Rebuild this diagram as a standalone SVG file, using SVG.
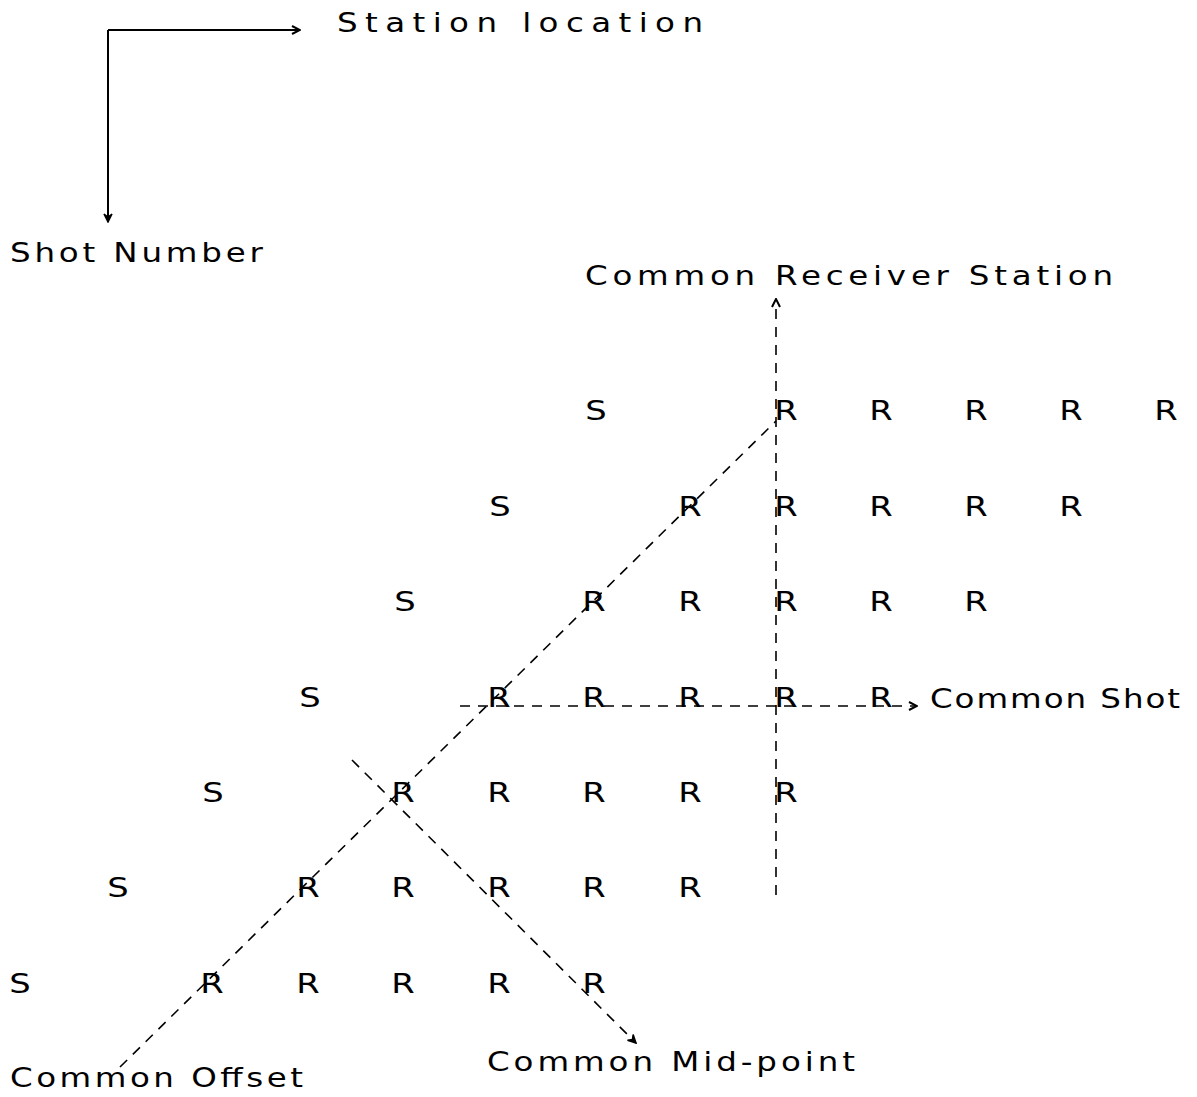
<svg xmlns="http://www.w3.org/2000/svg" width="1197" height="1097" viewBox="0 0 1197 1097">
<style>
text{font-family:"DejaVu Sans","Liberation Sans",sans-serif;font-size:26px;fill:#000}
.g text{text-anchor:middle;font-size:27px}
.ax{stroke:#000;stroke-width:2;fill:none}
.d{stroke:#000;stroke-width:1.6;fill:none;stroke-dasharray:10 8}
</style>
<defs>
<marker id="ah" viewBox="0 0 10 10" refX="9" refY="5" markerWidth="10" markerHeight="10" markerUnits="userSpaceOnUse" orient="auto">
<path d="M1,1 L9,5 L1,9" fill="none" stroke="#000" stroke-width="2"/>
</marker>
<marker id="ahf" viewBox="0 0 10 10" refX="9" refY="5" markerWidth="10" markerHeight="10" markerUnits="userSpaceOnUse" orient="auto">
<path d="M1,1 L9,5 L1,9 L4,5 Z" fill="#000" stroke="#000" stroke-width="1.5"/>
</marker>
</defs>
<rect width="1197" height="1097" fill="#fff"/>
<g id="axes">
<path class="ax" d="M108,30 H300" marker-end="url(#ah)"/>
<path class="ax" d="M108,30 V222" marker-end="url(#ahf)"/>
</g>
<g id="label-station"><text transform="translate(337,32) scale(1.25,1)" textLength="292.8" lengthAdjust="spacing">Station location</text></g>
<g id="label-shotnum"><text transform="translate(10,262) scale(1.25,1)" textLength="202.4" lengthAdjust="spacing">Shot Number</text></g>
<g id="label-receiver"><text transform="translate(585,285) scale(1.25,1)" textLength="422.4" lengthAdjust="spacing">Common Receiver Station</text></g>
<g id="label-shot"><text transform="translate(930,708) scale(1.25,1)" textLength="200" lengthAdjust="spacing">Common Shot</text></g>
<g id="label-offset"><text transform="translate(10,1087) scale(1.25,1)" textLength="234.4" lengthAdjust="spacing">Common Offset</text></g>
<g id="label-midpoint"><text transform="translate(487,1071) scale(1.25,1)" textLength="294.4" lengthAdjust="spacing">Common Mid-point</text></g>
<g id="grid" class="g">
<g id="row1"><text transform="translate(596,420) scale(1.25,1)">S</text><text transform="translate(786,420) scale(1.25,1)">R</text><text transform="translate(881,420) scale(1.25,1)">R</text><text transform="translate(976,420) scale(1.25,1)">R</text><text transform="translate(1071,420) scale(1.25,1)">R</text><text transform="translate(1166,420) scale(1.25,1)">R</text></g>
<g id="row2"><text transform="translate(500,516) scale(1.25,1)">S</text><text transform="translate(690,516) scale(1.25,1)">R</text><text transform="translate(786,516) scale(1.25,1)">R</text><text transform="translate(881,516) scale(1.25,1)">R</text><text transform="translate(976,516) scale(1.25,1)">R</text><text transform="translate(1071,516) scale(1.25,1)">R</text></g>
<g id="row3"><text transform="translate(405,611) scale(1.25,1)">S</text><text transform="translate(594,611) scale(1.25,1)">R</text><text transform="translate(690,611) scale(1.25,1)">R</text><text transform="translate(786,611) scale(1.25,1)">R</text><text transform="translate(881,611) scale(1.25,1)">R</text><text transform="translate(976,611) scale(1.25,1)">R</text></g>
<g id="row4"><text transform="translate(310,707) scale(1.25,1)">S</text><text transform="translate(499,707) scale(1.25,1)">R</text><text transform="translate(594,707) scale(1.25,1)">R</text><text transform="translate(690,707) scale(1.25,1)">R</text><text transform="translate(786,707) scale(1.25,1)">R</text><text transform="translate(881,707) scale(1.25,1)">R</text></g>
<g id="row5"><text transform="translate(213,802) scale(1.25,1)">S</text><text transform="translate(403,802) scale(1.25,1)">R</text><text transform="translate(499,802) scale(1.25,1)">R</text><text transform="translate(594,802) scale(1.25,1)">R</text><text transform="translate(690,802) scale(1.25,1)">R</text><text transform="translate(786,802) scale(1.25,1)">R</text></g>
<g id="row6"><text transform="translate(118,897) scale(1.25,1)">S</text><text transform="translate(308,897) scale(1.25,1)">R</text><text transform="translate(403,897) scale(1.25,1)">R</text><text transform="translate(499,897) scale(1.25,1)">R</text><text transform="translate(594,897) scale(1.25,1)">R</text><text transform="translate(690,897) scale(1.25,1)">R</text></g>
<g id="row7"><text transform="translate(20,993) scale(1.25,1)">S</text><text transform="translate(212,993) scale(1.25,1)">R</text><text transform="translate(308,993) scale(1.25,1)">R</text><text transform="translate(403,993) scale(1.25,1)">R</text><text transform="translate(499,993) scale(1.25,1)">R</text><text transform="translate(594,993) scale(1.25,1)">R</text></g>
</g>
<g id="connectors">
<path class="d" d="M120,1067 L776,421"/>
<path class="d" d="M352,760 L636,1043" marker-end="url(#ahf)"/>
<path class="d" d="M776,895 V299" marker-end="url(#ah)"/>
<path class="d" d="M460,706 H917" marker-end="url(#ah)"/>
</g>
</svg>
